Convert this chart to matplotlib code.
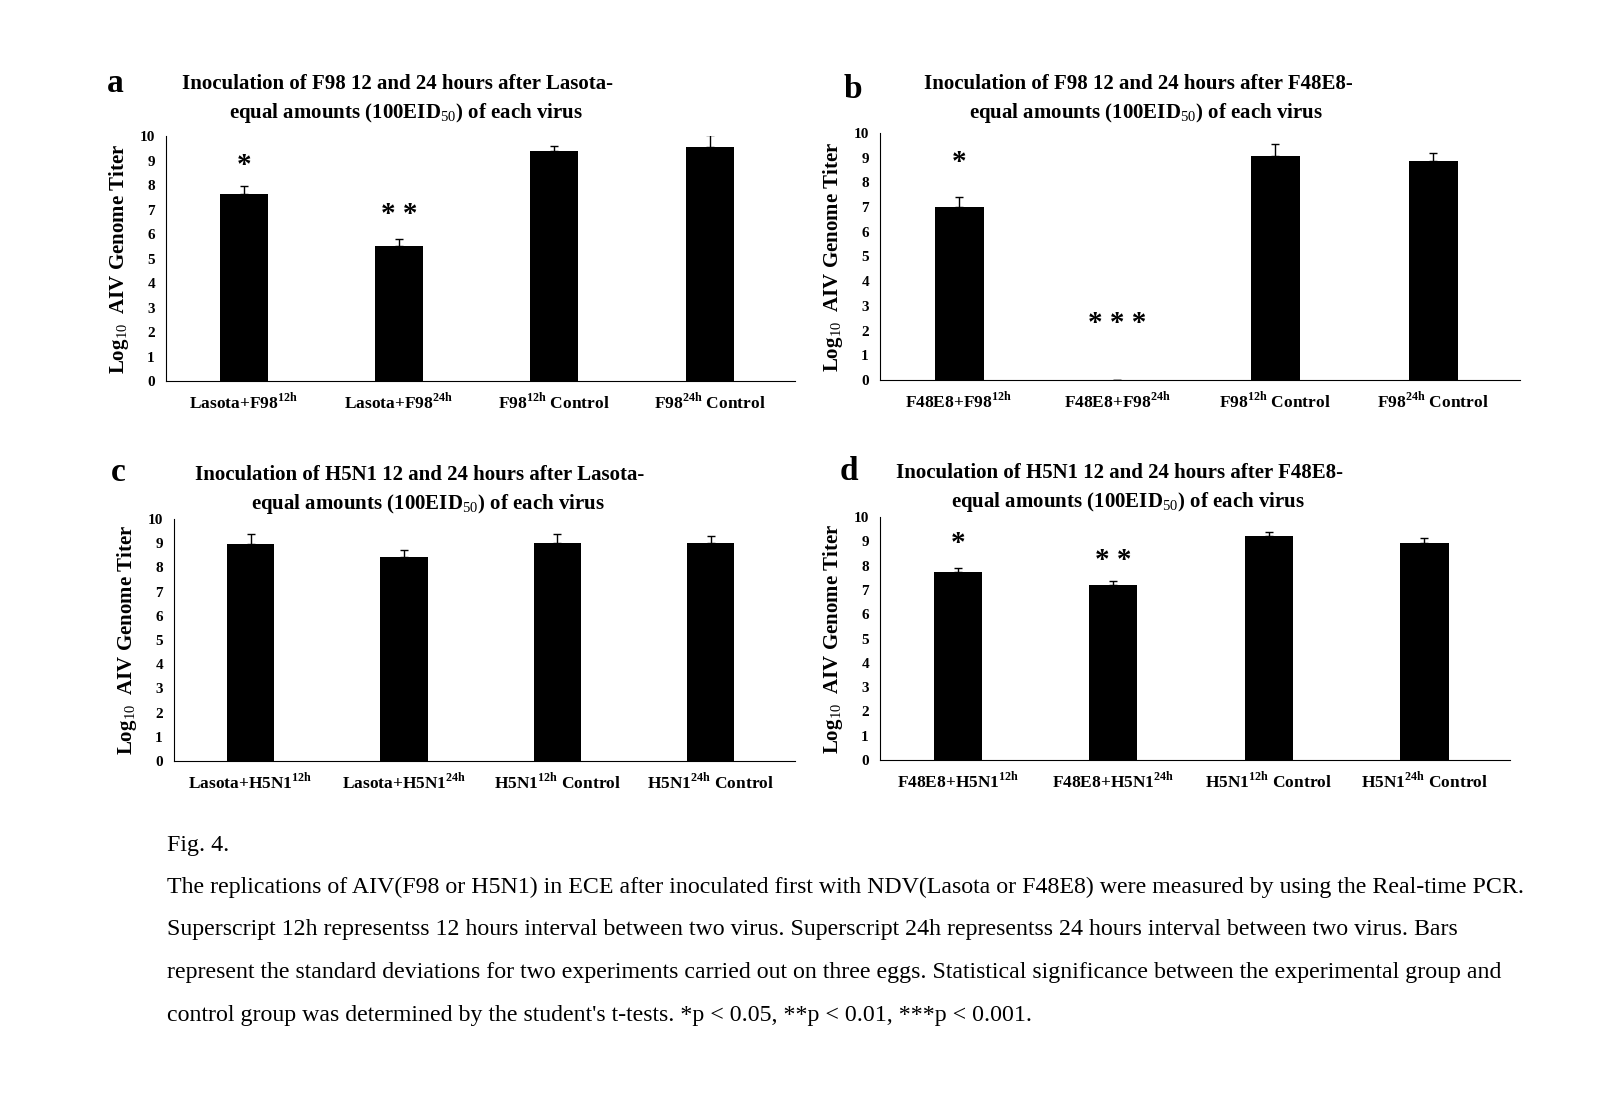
import matplotlib
matplotlib.use("Agg")
import matplotlib.pyplot as plt
import numpy as np

plt.rcParams['font.family'] = ['Liberation Serif', 'DejaVu Serif']
plt.rcParams['mathtext.fontset'] = 'custom'
plt.rcParams['mathtext.rm'] = 'Liberation Serif'
plt.rcParams['mathtext.bf'] = 'Liberation Serif:bold'

labels_a = ["Lasota+F98$^{\\mathbf{12h}}$", "Lasota+F98$^{\\mathbf{24h}}$",
            "F98$^{\\mathbf{12h}}$ Control", "F98$^{\\mathbf{24h}}$ Control"]
labels_b = ["F48E8+F98$^{\\mathbf{12h}}$", "F48E8+F98$^{\\mathbf{24h}}$",
            "F98$^{\\mathbf{12h}}$ Control", "F98$^{\\mathbf{24h}}$ Control"]
labels_c = ["Lasota+H5N1$^{\\mathbf{12h}}$", "Lasota+H5N1$^{\\mathbf{24h}}$",
            "H5N1$^{\\mathbf{12h}}$ Control", "H5N1$^{\\mathbf{24h}}$ Control"]
labels_d = ["F48E8+H5N1$^{\\mathbf{12h}}$", "F48E8+H5N1$^{\\mathbf{24h}}$",
            "H5N1$^{\\mathbf{12h}}$ Control", "H5N1$^{\\mathbf{24h}}$ Control"]

vals_a = [7.65, 5.5, 9.4, 9.55]
err_a = [0.3, 0.3, 0.2, 0.5]
vals_b = [7.0, 0.0, 9.05, 8.85]
err_b = [0.4, 0.0, 0.5, 0.35]
vals_c = [8.95, 8.45, 9.0, 9.0]
err_c = [0.45, 0.25, 0.4, 0.3]
vals_d = [7.75, 7.2, 9.2, 8.95]
err_d = [0.15, 0.15, 0.2, 0.2]

stars_a = ["*", "* *", "", ""]
stars_b = ["*", "* * *", "", ""]
stars_c = ["", "", "", ""]
stars_d = ["*", "* *", "", ""]

titles = {
    "a": ("Inoculation of F98 12 and 24 hours after Lasota-", "equal amounts (100EID$_{50}$) of each virus"),
    "b": ("Inoculation of F98 12 and 24 hours after F48E8-", "equal amounts (100EID$_{50}$) of each virus"),
    "c": ("Inoculation of H5N1 12 and 24 hours after Lasota-", "equal amounts (100EID$_{50}$) of each virus"),
    "d": ("Inoculation of H5N1 12 and 24 hours after F48E8-", "equal amounts (100EID$_{50}$) of each virus"),
}

W, H = 1600, 1100
fig = plt.figure(figsize=(16, 11), dpi=100)


def px_axes(x0, y0, x1, y1):
    return fig.add_axes([x0 / W, 1 - y1 / H, (x1 - x0) / W, (y1 - y0) / H])


def panel(box, letter, lpos, tpos, labels, vals, errs, stars, star_y):
    ax = px_axes(*box)
    x = np.arange(4)
    ax.bar(x, vals, width=0.31, color="black")
    ax.errorbar(x, vals, yerr=[np.zeros(4), errs], fmt="none", ecolor="black",
                elinewidth=1, capsize=3)
    for xi, s, sy in zip(x, stars, star_y):
        if s:
            ax.text(xi, sy, s, ha="center", va="center", fontsize=21, fontweight="bold")
    ax.set_xlim(-0.5, 3.55)
    ax.set_ylim(0, 10)
    ax.set_yticks(range(11))
    ax.tick_params(axis="y", length=0, labelsize=11, pad=8)
    ax.tick_params(axis="x", length=0, pad=8)
    for t in ax.get_yticklabels():
        t.set_fontweight("bold")
    ax.set_xticks(x)
    ax.set_xticklabels(labels, fontsize=12.5, fontweight="bold")
    ax.spines["top"].set_visible(False)
    ax.spines["right"].set_visible(False)
    ax.set_ylabel("Log$_{10}$  AIV Genome Titer", fontsize=15, fontweight="bold", labelpad=6)
    fig.text(lpos[0] / W, 1 - lpos[1] / H, letter, fontsize=24, fontweight="bold",
             ha="center", va="center")
    fig.text(tpos[0] / W, 1 - tpos[1] / H, titles[letter][0], fontsize=15,
             fontweight="bold", ha="center", va="center")
    fig.text(tpos[0] / W + 0.005, 1 - (tpos[1] + 29) / H, titles[letter][1], fontsize=15,
             fontweight="bold", ha="center", va="center")


panel((166, 136, 795, 381), "a", (115, 84), (398, 84), labels_a, vals_a, err_a, stars_a,
      [8.8, 6.8, 0, 0])
panel((880, 133, 1520, 380), "b", (853, 89), (1138, 84), labels_b, vals_b, err_b, stars_b,
      [8.8, 2.3, 0, 0])
panel((174, 519, 795, 761), "c", (118, 473), (420, 475), labels_c, vals_c, err_c, stars_c,
      [0, 0, 0, 0])
panel((880, 517, 1510, 760), "d", (849, 471), (1120, 473), labels_d, vals_d, err_d, stars_d,
      [8.9, 8.2, 0, 0])

caption = ["Fig. 4.",
           "The replications of AIV(F98 or H5N1) in ECE after inoculated first with NDV(Lasota or F48E8) were measured by using the Real-time PCR.",
           "Superscript 12h representss 12 hours interval between two virus. Superscript 24h representss 24 hours interval between two virus. Bars",
           "represent the standard deviations for two experiments carried out on three eggs. Statistical significance between the experimental group and",
           "control group was determined by the student's t-tests. *p < 0.05, **p < 0.01, ***p < 0.001."]
for i, line in enumerate(caption):
    fig.text(167 / W, 1 - (845 + i * 42.5) / H, line, fontsize=17.2, va="center", ha="left")

fig.savefig("out.png", dpi=100, facecolor="white")
